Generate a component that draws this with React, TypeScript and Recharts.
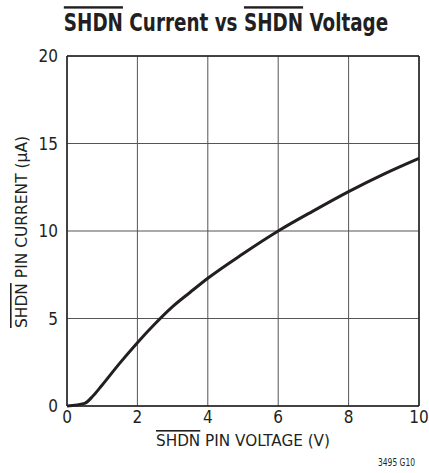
import React from 'react';
import { LineChart, Line, XAxis, YAxis, CartesianGrid, ReferenceLine } from 'recharts';

const voltage = [0, 0.5, 0.75, 1, 1.5, 2, 2.5, 3, 3.5, 4, 5, 6, 7, 8, 9, 10];
const current = [0, 0.15, 0.6, 1.2, 2.45, 3.62, 4.7, 5.68, 6.5, 7.3, 8.7, 10.0, 11.15, 12.25, 13.25, 14.15];
const xTicks = [0, 2, 4, 6, 8, 10];
const yTicks = [0, 5, 10, 15, 20];

const data = voltage.map((v, i) => ({ v, i: current[i] }));

const FONT = '"Liberation Sans Narrow", "DejaVu Sans Condensed", "Roboto", sans-serif';
const INK = '#231f20';

export default function App() {
  return (
    <div style={{ position: 'absolute', left: 0, top: 0, width: 429, height: 473, background: '#fff' }}>
      <LineChart
        width={429}
        height={473}
        data={data}
        margin={{ top: 56, right: 10, bottom: 37, left: 37 }}
      >
        <CartesianGrid stroke="#555" strokeWidth={1} />
        <XAxis
          dataKey="v"
          type="number"
          domain={[0, 10]}
          ticks={xTicks}
          tickSize={0}
          tickMargin={5}
          height={30}
          axisLine={{ stroke: INK, strokeWidth: 1.5 }}
          tickLine={false}
          tick={{ fontFamily: FONT, fontSize: 17, fill: INK }}
          interval={0}
        />
        <YAxis
          type="number"
          domain={[0, 20]}
          ticks={yTicks}
          tickSize={0}
          tickMargin={9}
          width={30}
          axisLine={{ stroke: INK, strokeWidth: 1.5 }}
          tickLine={false}
          tick={{ fontFamily: FONT, fontSize: 17, fill: INK }}
          interval={0}
        />
        <ReferenceLine y={20} stroke={INK} strokeWidth={1.5} />
        <ReferenceLine x={10} stroke={INK} strokeWidth={1.5} />
        <Line
          dataKey="i"
          type="monotone"
          stroke={INK}
          strokeWidth={3}
          dot={false}
          isAnimationActive={false}
        />
      </LineChart>
      <svg style={{ position: 'absolute', left: 0, top: 0 }} width={429} height={473}>
        <g transform="translate(226 31) scale(0.85 1)">
          <text
            x={0}
            y={0}
            textAnchor="middle"
            fontFamily={FONT}
            fontWeight="bold"
            fontSize={24}
            fill={INK}
          >
            <tspan textDecoration="overline">SHDN</tspan> Current vs <tspan textDecoration="overline">SHDN</tspan> Voltage
          </text>
        </g>
        <text
          x={22}
          y={232}
          transform="rotate(-90 22 232)"
          textAnchor="middle"
          dominantBaseline="middle"
          fontFamily={FONT}
          fontSize={16}
          fill={INK}
          textLength={192}
          lengthAdjust="spacingAndGlyphs"
        >
          <tspan textDecoration="overline">SHDN</tspan> PIN CURRENT (μA)
        </text>
        <text
          x={243}
          y={446}
          textAnchor="middle"
          fontFamily={FONT}
          fontSize={16}
          fill={INK}
          textLength={174}
          lengthAdjust="spacingAndGlyphs"
        >
          <tspan textDecoration="overline">SHDN</tspan> PIN VOLTAGE (V)
        </text>
        <text
          x={415}
          y={466}
          textAnchor="end"
          fontFamily={FONT}
          fontSize={11}
          fill={INK}
          textLength={37}
          lengthAdjust="spacingAndGlyphs"
        >
          3495 G10
        </text>
      </svg>
    </div>
  );
}
